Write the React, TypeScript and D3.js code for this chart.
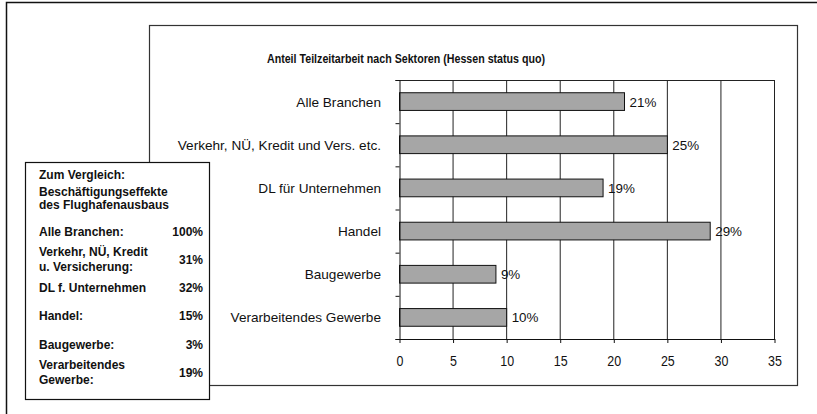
import React, { useEffect, useRef } from 'react';
import * as d3 from 'd3';

// Balken: Anteil Teilzeitarbeit (%)
const sectors = [
  'Alle Branchen',
  'Verkehr, NÜ, Kredit und Vers. etc.',
  'DL für Unternehmen',
  'Handel',
  'Baugewerbe',
  'Verarbeitendes Gewerbe'
];
const partTimeShare = [21, 25, 19, 29, 9, 10];
const xTicks = [0, 5, 10, 15, 20, 25, 30, 35];

// Vergleichskasten
const compareTitle = ['Zum Vergleich:', 'Beschäftigungseffekte', 'des Flughafenausbaus'];
const compareLabels = [
  ['Alle Branchen:'],
  ['Verkehr, NÜ, Kredit', 'u. Versicherung:'],
  ['DL f. Unternehmen'],
  ['Handel:'],
  ['Baugewerbe:'],
  ['Verarbeitendes', 'Gewerbe:']
];
const compareValues = ['100%', '31%', '32%', '15%', '3%', '19%'];

const TITLE = 'Anteil Teilzeitarbeit nach Sektoren (Hessen status quo)';

const SANS = "'Liberation Sans', Arial, sans-serif";

const App: React.FC = () => {
  const svgRef = useRef<SVGSVGElement>(null);

  useEffect(() => {
    document.body.style.margin = '0';
    document.body.style.overflow = 'hidden';
    if (!svgRef.current) return;
    const svg = d3.select(svgRef.current);
    svg.selectAll('*').remove();

    // Außenrahmen (nur oben / links sichtbar)
    svg.append('path')
      .attr('d', 'M6.5,414 L6.5,2.5 L817,2.5')
      .attr('fill', 'none')
      .attr('stroke', '#111')
      .attr('stroke-width', 1.5);

    // Diagrammrahmen
    svg.append('rect')
      .attr('x', 149.5)
      .attr('y', 25.5)
      .attr('width', 648)
      .attr('height', 360)
      .attr('fill', '#fff')
      .attr('stroke', '#333')
      .attr('stroke-width', 1.2);

    // Titel (schmal gesetzt)
    svg.append('text')
      .attr('transform', 'translate(406,63) scale(0.79,1)')
      .attr('text-anchor', 'middle')
      .attr('font-family', SANS)
      .attr('font-weight', 'bold')
      .attr('font-size', 13.5)
      .attr('fill', '#111')
      .text(TITLE);

    const x = d3.scaleLinear().domain([0, 35]).range([399.5, 774.5]);
    const y = d3.scaleBand<string>()
      .domain(sectors)
      .range([80, 339])
      .paddingInner(0.59)
      .paddingOuter(0.295);

    const plot = svg.append('g');

    // Gitterlinien
    plot.selectAll('line.grid')
      .data(xTicks.slice(1))
      .enter()
      .append('line')
      .attr('class', 'grid')
      .attr('x1', d => x(d))
      .attr('x2', d => x(d))
      .attr('y1', 80)
      .attr('y2', 339)
      .attr('stroke', '#222')
      .attr('stroke-width', 1);

    plot.append('line')
      .attr('x1', x(0))
      .attr('x2', x(35))
      .attr('y1', 80.5)
      .attr('y2', 80.5)
      .attr('stroke', '#222');

    // Balken
    plot.selectAll('rect.bar')
      .data(partTimeShare)
      .enter()
      .append('rect')
      .attr('class', 'bar')
      .attr('x', x(0))
      .attr('y', (d, i) => y(sectors[i]) as number)
      .attr('width', d => x(d) - x(0))
      .attr('height', y.bandwidth())
      .attr('fill', '#a6a6a6')
      .attr('stroke', '#111')
      .attr('stroke-width', 1);

    // Datenbeschriftung
    plot.selectAll('text.val')
      .data(partTimeShare)
      .enter()
      .append('text')
      .attr('class', 'val')
      .attr('x', d => x(d) + 5)
      .attr('y', (d, i) => (y(sectors[i]) as number) + y.bandwidth() / 2 + 5)
      .attr('font-family', SANS)
      .attr('font-size', 13.4)
      .attr('fill', '#111')
      .text(d => `${d}%`);

    // Kategorien
    plot.selectAll('text.cat')
      .data(sectors)
      .enter()
      .append('text')
      .attr('class', 'cat')
      .attr('x', 381)
      .attr('y', d => (y(d) as number) + y.bandwidth() / 2 + 5)
      .attr('text-anchor', 'end')
      .attr('font-family', SANS)
      .attr('font-size', 13.6)
      .attr('fill', '#111')
      .text(d => d);

    // Y-Achse mit Teilstrichen an den Kategoriegrenzen
    const yEdges = d3.scaleLinear().domain([0, sectors.length]).range([80, 339]);
    const yAxis = plot.append('g')
      .attr('transform', `translate(${x(0)},0)`)
      .call(d3.axisLeft(yEdges).tickValues(d3.range(sectors.length + 1)).tickSize(4).tickFormat(() => ''));
    yAxis.select('.domain').attr('stroke', '#111');
    yAxis.selectAll('.tick line').attr('stroke', '#111');

    // X-Achse
    const xAxis = plot.append('g')
      .attr('transform', 'translate(0,339)')
      .call(d3.axisBottom(x).tickValues(xTicks).tickSize(4).tickSizeOuter(0));
    xAxis.select('.domain').attr('stroke', '#111');
    xAxis.selectAll('.tick line').attr('stroke', '#111');
    xAxis.selectAll('.tick text')
      .attr('y', 0)
      .attr('dy', 0)
      .attr('transform', 'translate(0,26.5) scale(0.86,1)')
      .attr('font-family', SANS)
      .attr('font-size', 14.5)
      .attr('fill', '#111');

    // Vergleichskasten
    const box = svg.append('g');
    box.append('rect')
      .attr('x', 25.5)
      .attr('y', 162.5)
      .attr('width', 184)
      .attr('height', 237)
      .attr('fill', '#fff')
      .attr('stroke', '#111')
      .attr('stroke-width', 1.2);

    const titleBaselines = [179.3, 195.7, 209.3];
    box.selectAll('text.head')
      .data(compareTitle)
      .enter()
      .append('text')
      .attr('class', 'head')
      .attr('x', 39)
      .attr('y', (d, i) => titleBaselines[i])
      .attr('font-family', SANS)
      .attr('font-weight', 'bold')
      .attr('font-size', 12)
      .attr('fill', '#111')
      .text(d => d);

    const rowCenter = (i: number) => 231.7 + i * 28.2;
    compareLabels.forEach((lines, i) => {
      lines.forEach((line, j) => {
        const off = lines.length === 1 ? 0 : (j === 0 ? -7.5 : 7.5);
        box.append('text')
          .attr('x', 39)
          .attr('y', rowCenter(i) + off + 4)
          .attr('font-family', SANS)
          .attr('font-weight', 'bold')
          .attr('font-size', 12)
          .attr('fill', '#111')
          .text(line);
      });
      box.append('text')
        .attr('x', 203)
        .attr('y', rowCenter(i) + 4)
        .attr('text-anchor', 'end')
        .attr('font-family', SANS)
        .attr('font-weight', 'bold')
        .attr('font-size', 12)
        .attr('fill', '#111')
        .text(compareValues[i]);
    });
  }, []);

  return (
    <svg
      ref={svgRef}
      width={817}
      height={414}
      style={{ position: 'absolute', left: 0, top: 0, background: '#fff' }}
    />
  );
};

export default App;
